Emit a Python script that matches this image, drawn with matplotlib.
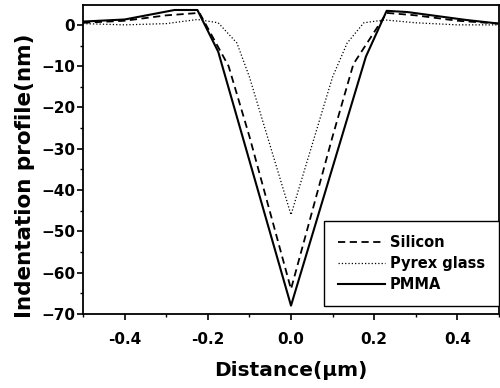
import matplotlib.pyplot as plt
import numpy as np

plt.rcParams['font.family'] = ['DejaVu Sans']
plt.rcParams['font.weight'] = 'bold'

# Silicon (dashed)
x_si = [-0.5, -0.4, -0.3, -0.22, -0.15, -0.1, -0.05, 0.0, 0.05, 0.1, 0.15, 0.23, 0.3, 0.4, 0.5]
y_si = [0.5, 1.0, 2.3, 2.9, -10.0, -27.0, -45.5, -64.0, -45.5, -27.0, -9.5, 2.9, 2.3, 1.0, 0.3]

# Pyrex glass (dotted)
x_py = [-0.5, -0.4, -0.3, -0.225, -0.175, -0.13, -0.1, 0.0, 0.1, 0.135, 0.175, 0.225, 0.3, 0.4, 0.5]
y_py = [0.3, 0.0, 0.3, 1.3, 0.5, -4.4, -12.6, -46.0, -12.6, -4.4, 0.5, 1.2, 0.5, 0.0, 0.0]

# PMMA (solid)
x_pm = [-0.5, -0.4, -0.28, -0.225, -0.175, 0.0, 0.18, 0.23, 0.28, 0.42, 0.5]
y_pm = [0.8, 1.3, 3.6, 3.6, -6.5, -68.0, -7.7, 3.4, 3.1, 1.2, 0.3]

fig = plt.figure(figsize=(5, 3.88), dpi=100)
ax = fig.add_axes([0.166, 0.191, 0.832, 0.796])

ax.plot(x_si, y_si, '--', c='k', lw=1.3, dashes=(4, 2.5), label='Silicon')
ax.plot(x_py, y_py, ':', c='k', lw=0.9, label='Pyrex glass')
ax.plot(x_pm, y_pm, '-', c='k', lw=1.5, label='PMMA')

ax.set_xlim(-0.5, 0.5)
ax.set_ylim(-70, 4.8)
ax.set_xticks(np.arange(-0.4, 0.5, 0.2))
ax.set_xticks(np.arange(-0.5, 0.55, 0.1), minor=True)
ax.set_yticks(np.arange(-70, 1, 10))
ax.set_yticks(np.arange(-70, 5, 5), minor=True)
ax.set_xticklabels(['-0.4', '-0.2', '0.0', '0.2', '0.4'])
ax.tick_params(which='major', length=4.5, width=1.2, labelsize=11)
ax.tick_params(which='minor', length=2.5, width=1)
ax.tick_params(axis='y', which='major', pad=1)
ax.tick_params(axis='x', which='major', pad=8.5)
for s in ax.spines.values():
    s.set_linewidth(1.3)

ax.set_xlabel('Distance(\u03bcm)', fontsize=14.5, fontweight='bold', labelpad=10)
ax.set_ylabel('Indentation profile(nm)', fontsize=15.5, fontweight='bold')
ax.yaxis.set_label_coords(-0.115, 0.447)

leg = ax.legend(loc='lower right', bbox_to_anchor=(1.0, 0.026), borderaxespad=0,
                fontsize=10.5, fancybox=False, framealpha=1, edgecolor='k',
                handlelength=3.2, handletextpad=0.35, borderpad=0.95, labelspacing=0.4)
leg.get_frame().set_linewidth(1.0)

plt.savefig('out.png', dpi=100)
